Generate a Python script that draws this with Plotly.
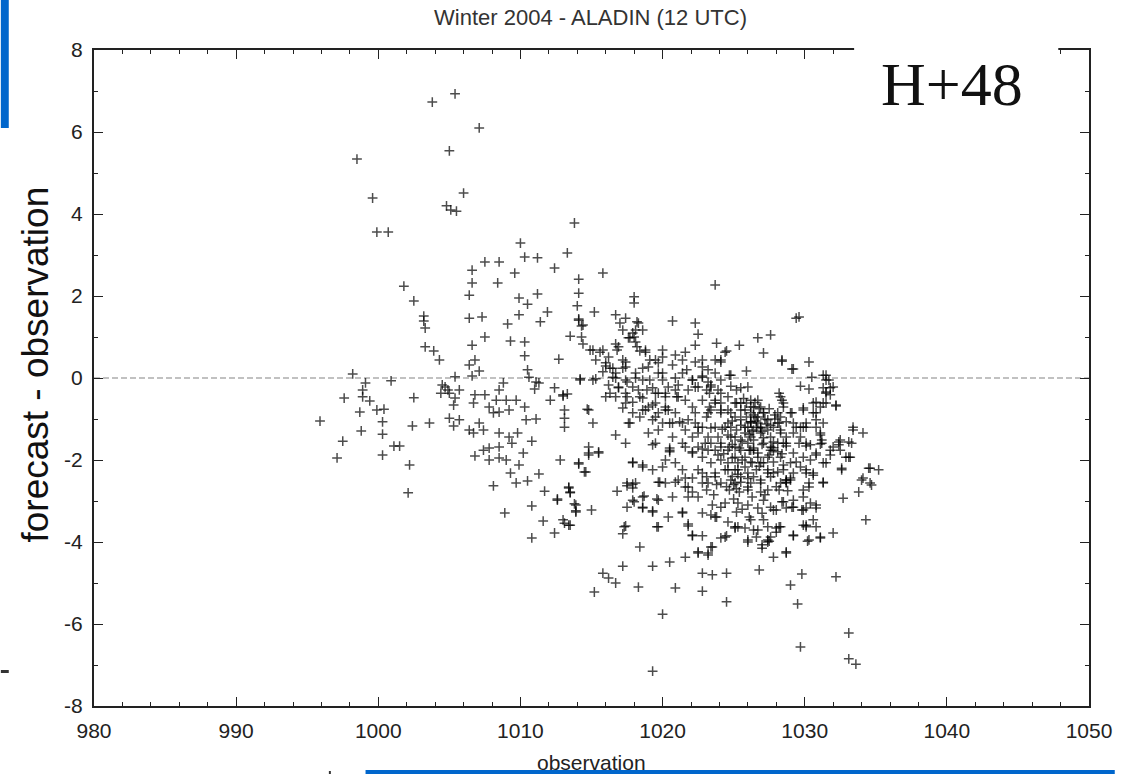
import plotly.graph_objects as go

# ---------------- data (observation [hPa], forecast - observation [hPa]) ----------------
obs_left = [
    995.9, 997.1, 997.5, 998.2, 998.5, 999.1, 998.9, 998.9, 999.4, 997.6,
    998.7, 999.9, 1000.4, 1000.3, 1000.9, 998.8, 1000.3, 1001.1, 1001.5, 1000.3,
    1002.2, 1002.1, 1002.5, 1002.4, 1003.6, 1003.3, 1003.9, 1004.3, 1004.7, 1004.9,
    1004.5, 1005.0, 1004.4, 1005.4, 1005.7, 1005.4, 1005.3, 1005.0, 1005.7, 1005.3,
    1006.6, 1006.8, 1006.4, 1007.1, 1006.6, 1007.5, 1009.3, 1010.3, 1010.3, 1010.5,
    1010.6, 1011.1, 1011.3, 1012.7, 1013.5, 1014.3, 1014.9, 1006.8, 1007.5, 1006.7,
    1007.8, 1008.3, 1008.8, 1008.5, 1009.0, 1009.7, 1010.3, 1009.2, 1008.5, 1008.1,
    1007.1, 1006.4, 1006.7, 1007.4, 1008.5, 1009.2, 1009.8, 1010.4, 1011.1, 1010.8,
    1009.4, 1007.8, 1007.4, 1008.5, 1006.8, 1007.8, 1008.5, 1009.0, 1009.9, 1010.2,
    1009.3, 1009.7, 1010.5, 1011.3, 1008.1, 1008.9, 1010.8, 1010.8, 1011.6, 1011.7,
    1012.6, 1012.4, 1013.0, 1013.1, 1013.5, 1013.4, 1013.5, 1013.8, 1013.9, 1015.0,
    1012.8, 1014.1, 1014.5, 1014.8, 1014.8, 1014.7, 1015.1, 1012.1, 1012.4, 1013.0,
    1013.3, 1013.1, 1013.1, 1013.1, 1011.0, 1014.2, 1015.1,
]
dif_left = [
    -1.05, -1.95, -1.54, 0.10, 5.34, -0.12, -0.29, -0.46, -0.56, -0.49,
    -0.83, -0.78, -0.76, -1.07, -0.07, -1.29, -1.37, -1.66, -1.66, -1.88,
    -2.12, -2.80, -0.48, -1.17, -1.10, 0.76, 0.66, 0.44, -0.22, -0.29,
    -0.17, -0.37, -0.37, 0.03, -0.29, -0.49, -0.66, -0.98, -1.02, -1.17,
    0.80, 0.44, 0.32, 0.17, 0.05, 1.00, 0.90, 0.88, 0.54, 0.20,
    0.02, -0.10, -0.12, 0.46, 1.02, 1.00, 0.68, -0.41, -0.41, -0.61,
    -0.71, -0.54, -0.12, -0.29, -0.54, -0.54, -0.71, -0.78, -0.83, -0.85,
    -1.10, -1.27, -1.34, -1.27, -1.34, -1.44, -1.34, -1.02, -1.00, -1.54,
    -1.59, -1.71, -1.76, -1.68, -1.90, -2.00, -1.95, -2.00, -2.12, -1.83,
    -2.32, -2.56, -2.51, -2.34, -2.63, -3.29, -3.12, -3.90, -3.49, -2.76,
    -2.95, -3.78, -3.46, -3.54, -3.59, -2.66, -2.78, -3.07, -3.24, -3.22,
    -2.00, -2.10, -2.29, -1.88, -1.68, -0.76, -1.10, -0.54, -0.24, -0.41,
    -0.39, -0.78, -0.98, -1.20, -0.27, -0.05, -0.05,
]

obs_upper = [
    1005.4, 1003.8, 1007.1, 1005.0, 999.6, 1006.0, 1004.8, 1005.1, 1005.5, 999.9,
    1000.7, 1013.8, 1010.0, 1010.3, 1011.2, 1007.5, 1008.5, 1006.6, 1012.4, 1013.3,
    1009.6, 1006.6, 1008.4, 1014.1, 1014.1, 1001.8, 1002.5, 1006.4, 1009.9, 1011.2,
    1010.5, 1014.0, 1003.2, 1003.2, 1003.3, 1006.4, 1007.3, 1009.9, 1011.9, 1011.4,
    1009.1, 1014.1, 1014.3, 1015.2, 1015.8, 1018.0, 1018.0, 1023.7,
]
dif_upper = [
    6.93, 6.73, 6.10, 5.54, 4.39, 4.51, 4.20, 4.10, 4.07, 3.56,
    3.56, 3.78, 3.29, 2.95, 2.93, 2.83, 2.83, 2.63, 2.68, 3.05,
    2.56, 2.32, 2.32, 2.41, 2.07, 2.24, 1.88, 2.02, 1.95, 2.05,
    1.80, 1.76, 1.51, 1.39, 1.22, 1.46, 1.49, 1.54, 1.61, 1.37,
    1.32, 1.44, 1.27, 1.61, 2.56, 1.98, 1.83, 2.27,
]

obs_zero = [
    1014.1, 1014.4, 1014.4, 1016.7, 1017.4, 1017.0, 1017.2, 1018.3, 1018.1, 1018.6,
    1017.7, 1018.0, 1020.7, 1022.3, 1022.5, 1015.1, 1015.8, 1016.7, 1016.8, 1016.0,
    1016.3, 1017.4, 1017.2, 1018.4, 1018.8, 1020.0, 1019.5, 1018.6, 1020.0, 1019.1,
    1018.1, 1017.5, 1016.7, 1015.3, 1014.2, 1020.7, 1021.6, 1021.4, 1022.3, 1022.8,
    1022.8, 1023.8, 1024.4, 1024.1, 1025.4, 1026.7, 1027.6, 1027.1, 1025.9, 1028.4,
    1029.1, 1030.3, 1029.4, 1029.6, 1024.8, 1023.4, 1022.8, 1022.1, 1021.0, 1021.1,
    1021.7, 1020.2, 1019.5, 1018.9, 1018.4, 1017.9, 1017.5, 1016.9, 1016.3, 1013.0,
    1018.2, 1017.9, 1017.6, 1018.1, 1015.6, 1016.9, 1016.2, 1017.2, 1018.2, 1018.8,
    1019.1, 1019.7, 1022.3, 1023.7, 1024.1, 1015.8, 1016.5, 1017.4, 1020.0, 1020.9,
    1016.5, 1017.4, 1016.2, 1016.9, 1018.3, 1019.3, 1019.7, 1020.2, 1021.1, 1021.8,
    1022.5, 1023.2, 1023.4, 1023.9, 1023.3, 1024.1, 1022.8, 1023.7, 1024.1, 1023.2,
    1016.0, 1016.7, 1017.4, 1017.9, 1018.6, 1019.0, 1019.5, 1020.2, 1017.2, 1017.9,
    1018.4, 1019.3, 1020.0, 1020.7, 1021.4, 1021.8, 1022.5, 1014.8, 1017.6,
    1024.5, 1028.4, 1029.2, 1024.7, 1030.5, 1031.5, 1031.7, 1024.8, 1025.5, 1026.0,
    1029.7, 1030.3, 1031.3, 1032.0, 1031.5, 1031.8, 1028.2, 1028.4, 1032.2, 1031.5,
    1030.6, 1029.9, 1029.1, 1028.1, 1028.5, 1026.7, 1026.9, 1027.1, 1026.2, 1025.8,
    1025.2, 1024.8, 1029.9, 1030.8, 1031.3, 1030.8, 1033.4, 1024.4, 1025.5, 1026.2,
    1028.1, 1029.2,
]
dif_zero = [
    1.41, 1.29, 0.83, 1.54, 1.46, 1.34, 1.17, 1.34, 1.17, 1.17,
    0.98, 1.00, 1.39, 1.34, 1.07, 0.68, 0.68, 0.83, 0.68, 0.29,
    0.24, 0.39, 0.24, 0.66, 0.68, 0.68, 0.44, 0.24, 0.12, -0.05,
    0.00, -0.10, 0.00, -0.02, -0.02, 0.32, 0.63, 0.44, 0.80, 0.44,
    0.27, 0.85, 0.63, 0.39, 0.80, 0.98, 1.05, 0.61, 0.17, 0.44,
    0.22, 0.39, 1.46, 1.49, 0.07, -0.17, 0.05, -0.05, -0.46, -0.17,
    0.20, -0.37, -0.37, -0.29, -0.46, -0.22, -0.46, -0.24, -0.37, -0.44,
    1.37, 1.10, 0.98, 0.88, 0.63, 0.76, 0.51, 0.44, 0.76, 0.63,
    0.44, 0.37, 0.39, 0.44, 0.44, 0.15, 0.24, 0.27, -0.05, 0.00,
    0.02, -0.05, -0.17, -0.22, -0.29, -0.24, -0.37, -0.46, -0.46, -0.29,
    -0.22, -0.10, -0.22, -0.29, -0.37, -0.37, -0.54, -0.61, -0.78, -0.85,
    -0.46, -0.46, -0.37, -0.59, -0.49, -0.71, -0.61, -0.71, -0.73, -0.85,
    -0.95, -1.02, -1.10, -1.10, -1.10, -1.02, -1.20, -0.78, -1.10,
    0.66, 0.41, 0.22, 0.07, 0.02, 0.07, -0.05, -0.20, -0.24, -0.22,
    -0.20, -0.27, -0.24, -0.22, -0.37, -0.41, -0.37, -0.54, -0.68, -0.61,
    -0.61, -0.73, -0.85, -0.85, -0.71, -0.54, -0.71, -0.85, -0.54, -0.78,
    -0.61, -0.85, -1.20, -1.02, -1.10, -0.85, -1.20, -1.20, -1.02, -1.07,
    -1.10, -1.10,
]

obs_mid = [
    1016.7, 1017.4, 1014.8, 1015.5, 1014.1, 1014.6, 1017.4, 1018.6, 1017.7, 1019.3,
    1019.5, 1020.2, 1020.5, 1021.2, 1019.7, 1019.0, 1020.7, 1021.4, 1020.5, 1019.5,
    1019.3, 1017.9, 1018.6, 1017.5, 1018.1, 1019.8, 1020.9, 1021.4, 1021.6, 1022.1,
    1022.5, 1023.1, 1023.3, 1024.1, 1024.6, 1025.2, 1025.5, 1026.2, 1026.4, 1025.9,
    1026.7, 1026.0, 1025.1, 1024.6, 1023.7, 1023.2, 1024.1, 1024.8, 1025.5, 1026.2,
    1026.9, 1027.4, 1027.8, 1028.7, 1029.0, 1028.5, 1028.3, 1029.9, 1030.6, 1031.1,
    1031.3, 1030.8, 1032.2, 1031.5, 1031.8, 1031.5, 1031.3, 1030.1, 1030.8, 1029.7,
    1031.1, 1031.2, 1032.4, 1032.5, 1033.1, 1032.9, 1033.2, 1032.6, 1031.8, 1031.5,
    1030.8, 1030.4, 1030.1, 1029.6, 1028.7, 1029.2, 1028.3, 1027.6, 1027.1, 1026.4,
    1026.0, 1025.5, 1025.1, 1024.6, 1023.9, 1023.4, 1022.8, 1022.5, 1023.1, 1023.7,
    1024.4, 1025.1, 1025.8, 1026.2, 1026.9, 1027.4, 1027.8, 1028.7, 1029.2, 1030.1,
    1030.6, 1031.3, 1030.3, 1028.3, 1026.9, 1026.0, 1025.1, 1024.1, 1022.8, 1021.8,
    1021.1, 1020.2,
]
dif_mid = [
    -1.39, -1.59, -1.83, -1.83, -2.07, -2.29, -0.61, -0.78, -1.10, -0.66,
    -0.95, -0.78, -1.10, -1.07, -1.27, -1.34, -1.44, -1.59, -1.76, -1.59,
    -2.24, -2.05, -2.17, -2.56, -2.56, -2.54, -2.07, -2.24, -2.44, -1.80,
    -1.34, -0.95, -0.71, -0.61, -0.46, -0.29, -0.61, -0.71, -0.90, -0.95,
    -1.10, -1.20, -0.95, -1.10, -1.20, -1.44, -1.59, -1.44, -1.51, -1.44,
    -1.34, -1.27, -1.20, -1.07, -0.85, -0.61, -0.46, -0.78, -0.85, -0.71,
    -0.61, -0.59, -0.66, -0.34, -0.24, -0.05, 0.07, -1.10, -1.20, -1.20,
    -1.34, -1.59, -1.56, -1.76, -1.56, -1.93, -1.93, -2.24, -1.88, -2.07,
    -1.88, -2.00, -1.59, -1.59, -1.59, -1.83, -1.93, -1.76, -1.59, -1.76,
    -1.59, -1.76, -1.93, -1.76, -1.88, -2.07, -1.93, -2.24, -2.41, -2.32,
    -2.24, -2.24, -2.17, -2.05, -2.07, -2.24, -2.32, -2.49, -2.32, -2.24,
    -2.32, -2.56, -2.56, -2.56, -2.56, -2.66, -2.56, -2.56, -2.56, -2.66,
    -2.49, -2.56,
]

obs_low = [
    1019.3, 1020.5, 1021.6, 1022.8, 1024.1, 1025.1, 1026.4, 1027.6, 1028.7, 1030.1,
    1031.1, 1032.4, 1033.3, 1033.1, 1034.5, 1035.2, 1034.1, 1034.7, 1033.8, 1032.7,
    1034.3, 1032.0, 1031.1, 1030.2, 1029.2, 1030.6, 1030.1, 1030.1, 1030.8, 1029.8,
    1029.1, 1028.5, 1027.8, 1028.3, 1028.0, 1027.4, 1027.0, 1028.7, 1027.8, 1026.8,
    1029.8, 1029.0, 1029.5, 1032.2, 1033.1, 1029.7, 1033.1, 1033.6, 1019.3, 1020.0,
    1024.5, 1022.8, 1020.9, 1018.3, 1015.2, 1015.8, 1016.2, 1016.7, 1017.2, 1019.3,
    1020.5, 1021.6, 1022.8, 1023.5, 1024.5, 1018.4, 1019.6, 1022.5, 1023.2, 1023.5,
    1024.5, 1025.1, 1025.3, 1026.0, 1026.6, 1027.4, 1022.1, 1022.8, 1021.8, 1021.4,
    1020.4, 1017.3, 1017.2, 1017.5, 1018.0, 1018.6, 1019.3, 1019.7, 1016.8, 1017.5,
    1017.9, 1018.7, 1020.7, 1022.8, 1023.4, 1023.8, 1024.6, 1026.2, 1026.4, 1027.1,
    1027.6, 1013.9, 1013.9, 1013.4, 1012.6, 1013.4, 1013.5,
]
dif_low = [
    -1.63, -1.71, -1.68, -1.73, -1.68, -1.68, -1.71, -1.68, -1.66, -1.66,
    -1.61, -1.63, -1.59, -1.93, -2.20, -2.24, -2.44, -2.61, -2.78, -2.93,
    -3.46, -3.78, -3.90, -3.98, -3.85, -3.46, -3.59, -3.17, -3.10, -3.22,
    -3.15, -3.02, -3.22, -3.63, -3.66, -3.95, -4.15, -4.27, -4.37, -4.68,
    -4.78, -5.05, -5.51, -4.85, -6.22, -6.56, -6.85, -6.98, -7.15, -5.76,
    -5.46, -5.20, -5.12, -5.10, -5.22, -4.76, -4.88, -5.00, -4.59, -4.59,
    -4.49, -4.37, -4.76, -4.80, -4.76, -4.12, -3.63, -4.24, -4.27, -4.12,
    -3.85, -3.66, -3.63, -4.00, -3.88, -4.00, -3.85, -3.85, -3.61, -3.29,
    -3.39, -3.63, -3.80, -3.15, -3.02, -3.15, -3.24, -2.98, -2.76, -2.63,
    -2.59, -2.88, -2.90, -3.29, -3.34, -3.39, -3.51, -3.46, -3.71, -3.46,
    -3.88, -3.10, -3.27, -3.59, -2.98, -2.68, -2.80,
]

obs_core = [
    1023.4, 1020.5, 1020.2, 1022.1, 1023.2, 1015.5, 1017.9, 1018.6, 1020.0, 1022.1,
    1022.8, 1023.2, 1023.7, 1019.7, 1020.9, 1021.6, 1022.1, 1023.1, 1017.9, 1017.9,
    1018.6, 1019.6, 1021.8, 1022.5, 1023.5, 1024.1, 1018.6, 1019.3, 1021.4, 1023.7,
    1019.7, 1017.4, 1021.8, 1022.1, 1023.4, 1024.1, 1022.5, 1023.2,
    1033.4, 1034.1, 1032.5, 1032.0, 1031.8, 1031.2, 1031.1, 1030.4, 1030.1, 1029.4,
    1028.5, 1028.3, 1030.8, 1032.6, 1031.3, 1029.4, 1031.3, 1030.6, 1030.1, 1030.3,
    1029.9, 1029.0, 1028.7, 1028.2, 1027.4, 1026.9, 1026.9, 1027.1, 1027.6, 1028.4,
    1029.2, 1029.9, 1030.4, 1030.8, 1029.9, 1029.2, 1028.7, 1028.0, 1026.7, 1026.0,
    1026.0, 1025.3, 1025.2, 1026.1, 1025.8, 1025.1, 1024.4, 1026.7, 1027.4, 1028.2,
    1028.0, 1029.9, 1030.1, 1030.8, 1029.2, 1030.3, 1031.1, 1027.0, 1027.5, 1028.7,
    1026.0, 1034.6, 1034.0, 1034.6,
    1024.8, 1025.5, 1026.2, 1026.9, 1027.6, 1028.2, 1025.1, 1025.8, 1026.4, 1027.1,
    1027.8, 1024.7, 1025.4, 1026.1, 1026.7, 1027.5, 1028.1, 1024.9, 1025.6, 1026.3,
    1027.1, 1027.8, 1028.5, 1024.6, 1025.3, 1026.0, 1026.6, 1027.4, 1028.1, 1024.8,
    1025.5, 1026.2, 1024.7, 1025.4, 1028.7, 1029.0, 1028.7,
    1026.5, 1027.2, 1027.0, 1026.6, 1027.9, 1026.3, 1025.0, 1025.2, 1024.9, 1026.8,
]
dif_core = [
    -1.22, -1.80, -2.00, -1.83, -1.76, -1.80, -2.07, -2.12, -2.17, -2.44,
    -2.32, -2.56, -2.41, -2.54, -2.54, -2.66, -2.78, -2.73, -2.68, -2.98,
    -2.90, -2.95, -2.90, -2.90, -3.10, -3.15, -3.17, -3.27, -3.27, -3.39,
    -3.63, -3.61, -3.56, -3.83, -4.12, -3.90, -4.27, -4.32,
    -1.27, -1.34, -1.51, -1.68, -1.76, -1.51, -1.39, -1.63, -1.20, -1.20,
    -1.59, -1.34, -1.83, -2.20, -2.07, -2.05, -2.54, -2.37, -2.32, -2.66,
    -2.73, -2.49, -2.54, -2.73, -2.73, -2.49, -2.78, -2.98, -3.15, -3.02,
    -2.98, -2.90, -3.05, -3.17, -3.22, -3.15, -3.17, -3.22, -3.17, -3.10,
    -2.73, -3.05, -3.27, -3.39, -3.66, -3.63, -3.88, -3.71, -3.63, -3.63,
    -3.76, -3.59, -3.63, -3.63, -3.83, -3.95, -3.88, -4.07, -3.98, -4.24,
    -3.95, -2.20, -2.49, -2.56,
    -1.20, -1.15, -1.10, -1.22, -1.15, -1.10, -1.44, -1.34, -1.51, -1.46,
    -1.56, -1.68, -1.71, -1.76, -1.83, -1.88, -1.80, -1.95, -2.00, -2.07,
    -2.07, -2.05, -2.12, -2.24, -2.24, -2.32, -2.24, -2.32, -2.29, -2.49,
    -2.54, -2.56, -2.73, -2.78, -2.49, -2.44, -2.56,
    -0.95, -1.00, -1.30, -1.20, -0.90, -1.30, -2.60, -2.70, -2.40, -0.75,
]

obs_dense = [
    1022.3, 1023.1, 1023.7, 1023.4, 1024.1, 1024.6, 1025.1, 1025.5, 1025.9, 1026.2,
    1026.4, 1026.7, 1027.1, 1027.4, 1026.9, 1026.4, 1027.6, 1028.1, 1027.8, 1027.4,
    1026.7, 1026.2, 1025.8, 1025.3, 1024.6, 1024.1, 1023.7, 1023.0, 1022.5, 1022.1,
    1021.6, 1022.3, 1022.8, 1025.5, 1026.4, 1027.6, 1028.5, 1029.0, 1029.7, 1029.9,
    1028.3, 1029.2, 1029.7, 1028.7, 1026.2, 1025.8, 1025.2, 1024.6, 1023.9, 1023.4,
    1019.0, 1019.7, 1020.4, 1020.9, 1021.6, 1022.1, 1022.3, 1020.9, 1020.4, 1019.7,
    1018.8, 1018.6, 1018.1, 1016.7, 1016.0, 1015.3, 1023.2, 1023.7, 1024.1, 1022.8,
    1022.1, 1021.4, 1020.0, 1020.9,
    1026.6, 1027.3, 1027.9, 1026.1, 1025.6, 1024.9, 1024.3, 1027.0, 1027.7, 1028.4,
    1026.8, 1026.0, 1025.3, 1024.5, 1023.8, 1027.2, 1028.0, 1028.8, 1026.5, 1025.7,
    1024.9, 1024.2, 1027.5, 1028.3, 1025.0, 1026.3, 1027.0, 1025.6, 1024.4, 1023.6,
]
dif_dense = [
    -0.22, -0.29, -0.54, -0.78, -0.85, -0.78, -0.61, -0.78, -0.61, -0.85,
    -0.71, -0.95, -0.85, -1.02, -1.20, -1.27, -1.44, -1.59, -1.76, -1.93,
    -1.93, -1.76, -1.93, -2.07, -2.07, -2.00, -1.76, -1.59, -1.68, -1.44,
    -1.27, -1.10, -1.20, -2.41, -2.41, -2.41, -2.24, -2.07, -2.17, -1.93,
    -1.27, -1.34, -1.44, -1.44, -1.07, -1.20, -1.27, -1.39, -1.44, -1.59,
    0.27, 0.12, -0.22, -0.29, -0.54, -0.71, -0.85, -0.85, -0.78, -0.85,
    -0.78, -0.05, 0.12, 0.12, 0.37, 0.44, 0.20, 0.12, -0.05, 0.02,
    -0.05, 0.12, 0.51, 0.56,
    -1.05, -1.12, -1.00, -1.38, -1.55, -1.62, -1.85, -1.62, -1.70, -1.85,
    -2.15, -2.45, -2.35, -2.65, -2.60, -2.85, -2.65, -2.75, -0.60, -0.50,
    -1.05, -1.25, -0.75, -0.95, -2.95, -2.90, -3.30, -3.20, -3.05, -2.85,
]

x_ticks = [980, 990, 1000, 1010, 1020, 1030, 1040, 1050]
y_ticks = [-8, -6, -4, -2, 0, 2, 4, 6, 8]

title_text = "Winter 2004 - ALADIN (12 UTC)"
x_title = "observation"
y_title = "forecast - observation"
lead_label = "H+48"

# ---------------- layout geometry ----------------
W, H = 1124, 774
L, R, T, B = 94, 26, 50, 68
PW, PH = W - L - R, H - T - B


def px(x):
    return (x - L) / PW


def py(y):
    return (H - B - y) / PH


obs = obs_left + obs_upper + obs_zero + obs_mid + obs_low + obs_core + obs_dense
dif = dif_left + dif_upper + dif_zero + dif_mid + dif_low + dif_core + dif_dense

SANS = "Liberation Sans, Arial, Helvetica, sans-serif"
MARK = "rgba(0,0,0,0.7)"

fig = go.Figure()
fig.add_trace(go.Scatter(
    x=obs, y=dif, mode="markers",
    marker=dict(symbol="cross-thin-open", size=7, color=MARK,
                line=dict(width=1.5, color=MARK)),
    hoverinfo="x+y", showlegend=False,
))

axis_common = dict(
    showline=True, linewidth=2, linecolor="#222", mirror="ticks",
    ticks="inside", ticklen=9, tickwidth=1.3, tickcolor="#222",
    showgrid=False, zeroline=False,
    tickfont=dict(family=SANS, size=21, color="#222"),
    ticklabelstandoff=5,
)

fig.update_xaxes(
    range=[980, 1050], tickmode="array", tickvals=x_ticks,
    ticktext=[str(v) for v in x_ticks],
    minor=dict(dtick=2, tick0=980, ticks="inside", ticklen=4, tickwidth=1.2,
               tickcolor="#222", showgrid=False),
    **axis_common,
)
fig.update_yaxes(
    range=[-8, 8], tickmode="array", tickvals=y_ticks,
    ticktext=[str(v) for v in y_ticks],
    minor=dict(dtick=1, tick0=0, ticks="inside", ticklen=4, tickwidth=1.2,
               tickcolor="#222", showgrid=False),
    **axis_common,
)

shapes = [
    dict(type="line", xref="paper", yref="y", x0=0, x1=1, y0=0, y1=0,
         line=dict(color="#adadad", width=1.6, dash="6px,3px"), layer="below"),
    dict(type="rect", xref="paper", yref="paper", x0=px(861), x1=px(1067),
         y0=py(132), y1=py(36), fillcolor="white", line=dict(width=0), layer="above"),
    dict(type="rect", xref="paper", yref="paper", x0=px(0), x1=px(8),
         y0=py(128), y1=py(0), fillcolor="#0066cc", line=dict(width=0), layer="above"),
    dict(type="rect", xref="paper", yref="paper", x0=px(0), x1=px(8),
         y0=py(673), y1=py(670), fillcolor="#333333", line=dict(width=0), layer="above"),
    dict(type="rect", xref="paper", yref="paper", x0=px(368), x1=px(1124),
         y0=py(774), y1=py(770), fillcolor="#0066cc", line=dict(width=0), layer="above"),
    dict(type="rect", xref="paper", yref="paper", x0=px(331), x1=px(333),
         y0=py(774), y1=py(771), fillcolor="#333333", line=dict(width=0), layer="above"),
]

annotations = [
    dict(text=title_text, xref="paper", yref="paper", x=px(595), y=py(18),
         showarrow=False, xanchor="center", yanchor="middle",
         font=dict(family=SANS, size=22, color="#333")),
    dict(text=x_title, xref="paper", yref="paper", x=px(596), y=py(762),
         showarrow=False, xanchor="center", yanchor="middle",
         font=dict(family=SANS, size=21, color="#222")),
    dict(text=y_title, xref="paper", yref="paper", x=px(34), y=py(365),
         showarrow=False, xanchor="center", yanchor="middle", textangle=-90,
         font=dict(family=SANS, size=37, color="#111")),
    dict(text=lead_label, xref="paper", yref="paper", x=px(960), y=py(84),
         showarrow=False, xanchor="center", yanchor="middle",
         font=dict(family="Liberation Serif, Times New Roman, serif", size=62, color="#111")),
]

fig.update_layout(
    width=W, height=H,
    margin=dict(l=L, r=R, t=T, b=B, pad=0),
    paper_bgcolor="white", plot_bgcolor="white",
    shapes=shapes, annotations=annotations,
    showlegend=False,
)

fig.write_html("out.html")
